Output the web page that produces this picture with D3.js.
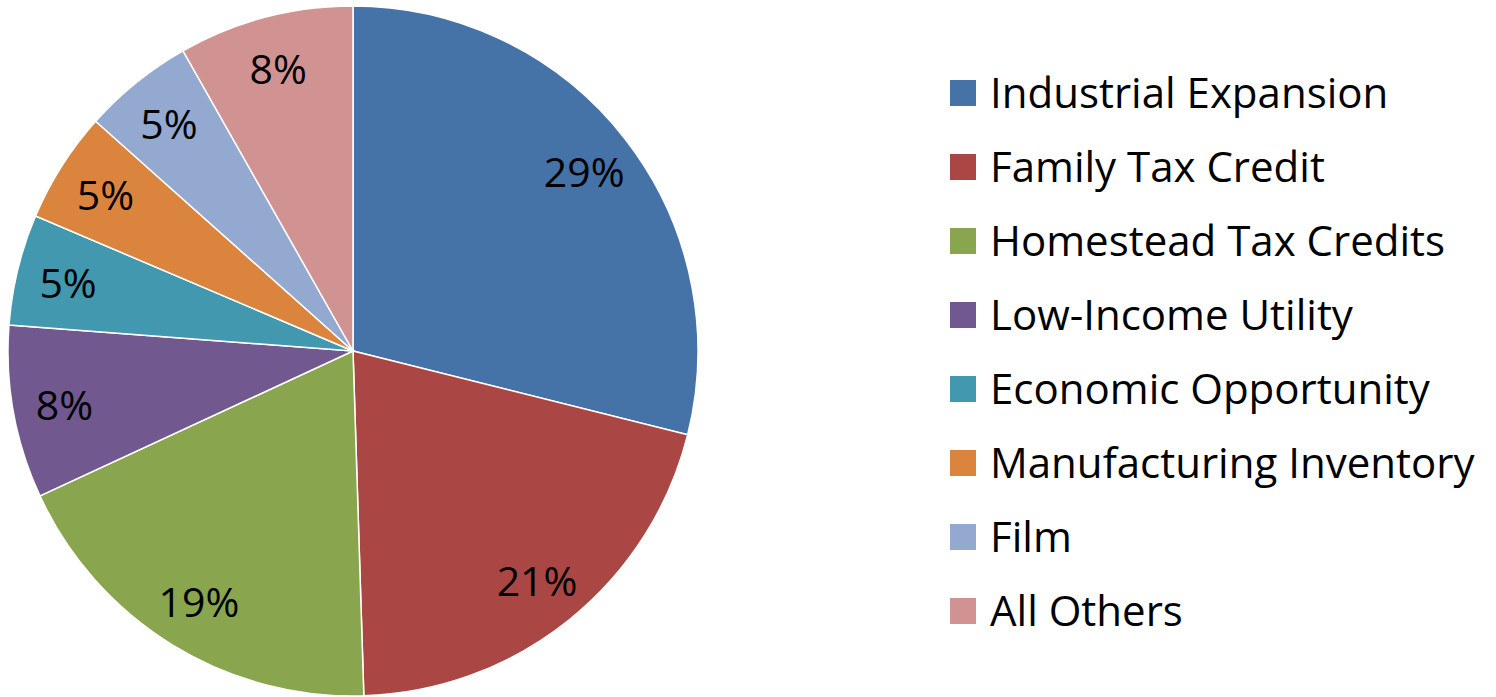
<!DOCTYPE html>
<meta charset="utf-8">
<head>
    <script src="https://d3js.org/d3.v7.min.js"></script>
    <style>
        body { margin: 0; background: #fff; }
        text { font-family: "Open Sans", "Noto Sans", sans-serif; fill: #000; }
    </style>
</head>
<body>
<div id="my_dataviz"></div>
<script>
    // data (share of total, %)
    var categories = ["Industrial Expansion", "Family Tax Credit", "Homestead Tax Credits",
        "Low-Income Utility", "Economic Opportunity", "Manufacturing Inventory", "Film", "All Others"];
    var values = [28.9, 20.6, 18.6, 8.1, 5.2, 5.2, 5.2, 8.2];
    var labels = ["29%", "21%", "19%", "8%", "5%", "5%", "5%", "8%"];
    var colors = ["#4572A7", "#AA4643", "#89A54E", "#71588F", "#4198AF", "#DB843D", "#93A9CF", "#D19392"];

    var width = 1496, height = 697;
    var cx = 353, cy = 351, radius = 345;

    var svg = d3.select("#my_dataviz").append("svg")
        .attr("width", width)
        .attr("height", height);

    var data = categories.map(function (c, i) { return { name: c, value: values[i], label: labels[i], color: colors[i] }; });

    var pie = d3.pie().sort(null).value(function (d) { return d.value; });
    var arc = d3.arc().innerRadius(0).outerRadius(radius);
    var labelArc = d3.arc().innerRadius(radius * 0.85).outerRadius(radius * 0.85);

    var g = svg.append("g").attr("transform", "translate(" + cx + "," + cy + ")");

    g.selectAll(".slice")
        .data(pie(data))
        .enter().append("path")
        .attr("class", "slice")
        .attr("d", arc)
        .style("fill", function (d) { return d.data.color; })
        .style("stroke", "#fff")
        .style("stroke-width", 1.5);

    g.selectAll(".lbl")
        .data(pie(data))
        .enter().append("text")
        .attr("class", "lbl")
        .attr("transform", function (d) { return "translate(" + labelArc.centroid(d) + ")"; })
        .attr("text-anchor", "middle")
        .attr("dy", "0.40em")
        .style("font-size", "41px")
        .text(function (d) { return d.data.label; });

    // legend
    var legend = svg.append("g").attr("transform", "translate(950,93)");
    var row = legend.selectAll(".legend")
        .data(data)
        .enter().append("g")
        .attr("class", "legend")
        .attr("transform", function (d, i) { return "translate(0," + (i * 74) + ")"; });

    row.append("rect")
        .attr("x", 0).attr("y", -13)
        .attr("width", 26).attr("height", 26)
        .style("fill", function (d) { return d.color; });

    row.append("text")
        .attr("x", 40)
        .attr("dy", "0.35em")
        .style("font-size", "42px")
        .text(function (d) { return d.name; });
</script>
</body>
